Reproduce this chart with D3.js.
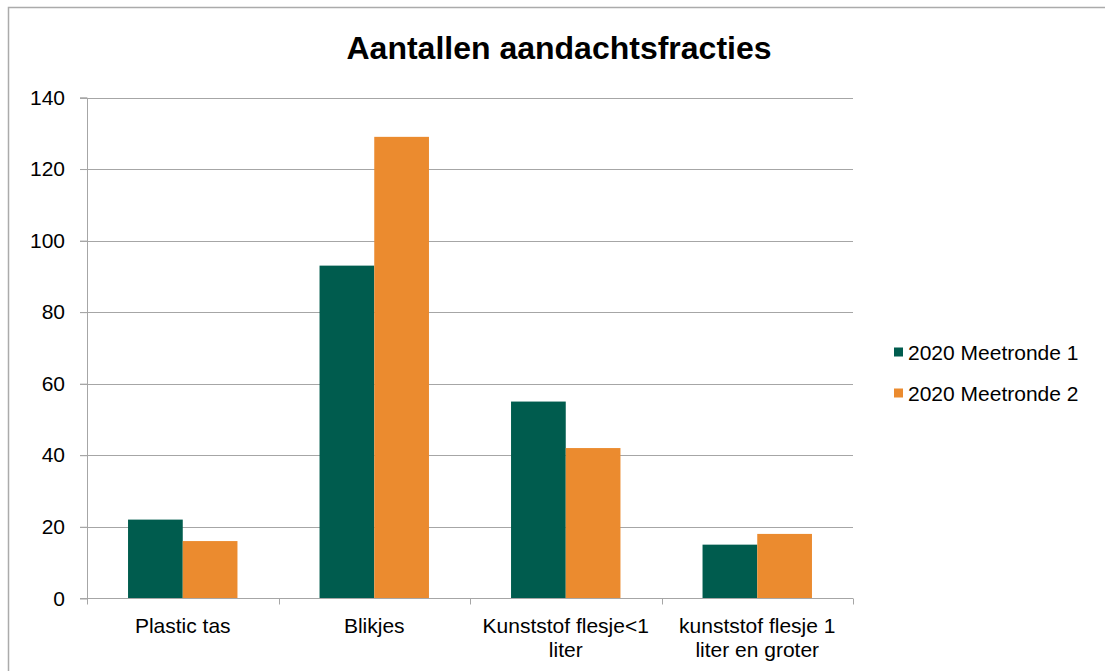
<!DOCTYPE html>
<html><head><meta charset="utf-8">
<script src="https://cdn.jsdelivr.net/npm/d3@7"></script>
<style>body{margin:0;background:#fff;}svg{display:block;font-family:"Liberation Sans",Arial,sans-serif;}</style>
</head><body>
<svg id="c" width="1105" height="671"></svg>
<script>
const categories = [["Plastic tas"], ["Blikjes"], ["Kunststof flesje<1", "liter"], ["kunststof flesje 1", "liter en groter"]];
const seriesNames = ["2020 Meetronde 1", "2020 Meetronde 2"];
const meetronde1 = [22, 93, 55, 15];
const meetronde2 = [16, 129, 42, 18];
const yTicks = [0, 20, 40, 60, 80, 100, 120, 140];
const colors = ["#005C4E", "#EB8B2F"];

const svg = d3.select("#c");
const pLeft = 87, pRight = 853, pTop = 97.5, pBottom = 598.3;

svg.append("rect").attr("x", 8.5).attr("y", 7.5).attr("width", 1200).attr("height", 800)
  .attr("fill", "none").attr("stroke", "#ababab").attr("stroke-width", 1.5);

const x0 = d3.scaleBand().domain(d3.range(categories.length)).range([pLeft, pRight]).paddingInner(0).paddingOuter(0);
const bw = x0.bandwidth() / 3.5;
const x1 = d3.scaleBand().domain([0, 1]).range([bw * 0.75, bw * 2.75]);
const y = d3.scaleLinear().domain([0, 140]).range([pBottom, pTop]);

// gridlines
svg.append("g").selectAll("line").data(yTicks.filter(d => d > 0)).join("line")
  .attr("x1", pLeft - 7).attr("x2", pRight).attr("y1", d => Math.round(y(d)) + 0.5).attr("y2", d => Math.round(y(d)) + 0.5)
  .attr("stroke", "#a6a6a6").attr("stroke-width", 1);

// y axis
const yAxis = d3.axisLeft(y).tickValues(yTicks).tickSize(7).tickPadding(15);
const gy = svg.append("g").attr("transform", `translate(${pLeft},0)`).call(yAxis);
gy.select(".domain").attr("stroke", "#a6a6a6");
gy.selectAll(".tick line").attr("stroke", "#a6a6a6");
gy.selectAll(".tick text").attr("font-size", 21).attr("fill", "#000").attr("font-family", "Liberation Sans, Arial, sans-serif");

// bars
const data = [meetronde1, meetronde2];
data.forEach((vals, s) => {
  svg.append("g").selectAll("rect").data(vals).join("rect")
    .attr("x", (d, i) => x0(i) + x1(s))
    .attr("width", x1.bandwidth())
    .attr("y", d => y(d))
    .attr("height", d => y(0) - y(d))
    .attr("fill", colors[s]);
});

// x axis
const gx = svg.append("g").attr("transform", `translate(0,${Math.round(pBottom) + 0.5})`);
gx.append("line").attr("x1", pLeft - 7).attr("x2", pRight).attr("stroke", "#a6a6a6");
const bounds = d3.range(categories.length + 1).map(i => i < categories.length ? x0(i) : x0(categories.length - 1) + x0.bandwidth());
gx.selectAll("line.tk").data(bounds).join("line").attr("class", "tk")
  .attr("x1", d => Math.round(d) + 0.5).attr("x2", d => Math.round(d) + 0.5).attr("y1", 0).attr("y2", 6)
  .attr("stroke", "#a6a6a6");
categories.forEach((lines, i) => {
  const t = gx.append("text").attr("text-anchor", "middle").attr("font-size", 21).attr("fill", "#000")
    .attr("x", x0(i) + x0.bandwidth() / 2).attr("y", 34);
  lines.forEach((l, j) => t.append("tspan").attr("x", x0(i) + x0.bandwidth() / 2).attr("dy", j === 0 ? 0 : 24.5).text(l));
});

// title
svg.append("text").attr("x", 559).attr("y", 59).attr("text-anchor", "middle")
  .attr("font-size", 32).attr("font-weight", "bold").attr("fill", "#000").text("Aantallen aandachtsfracties");

// legend
const lg = svg.append("g");
seriesNames.forEach((n, i) => {
  const cy = 352 + i * 41;
  lg.append("rect").attr("x", 894).attr("y", cy - 4.5).attr("width", 9).attr("height", 9).attr("fill", colors[i]);
  lg.append("text").attr("x", 908).attr("y", cy + 7.5).attr("font-size", 21).attr("fill", "#000").text(n);
});
</script>
</body></html>
